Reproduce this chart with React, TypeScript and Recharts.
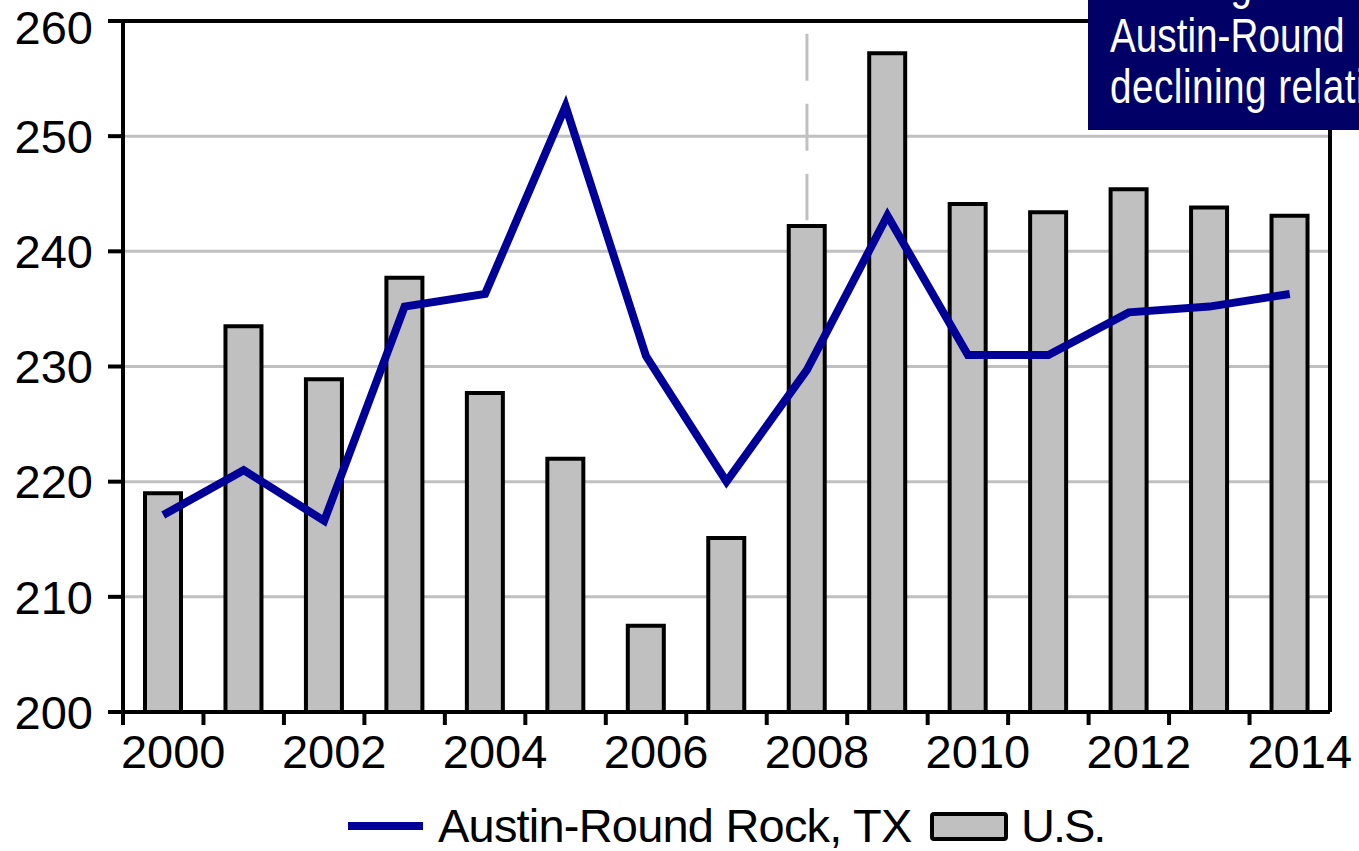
import React from 'react';
import {
  ComposedChart,
  Bar,
  Line,
  XAxis,
  YAxis,
  CartesianGrid,
  ReferenceLine,
  Legend,
} from 'recharts';

// ---- data ----
const years = [
  '2000', '2001', '2002', '2003', '2004', '2005', '2006', '2007',
  '2008', '2009', '2010', '2011', '2012', '2013', '2014',
];
const usValues = [
  219.0, 233.5, 228.9, 237.7, 227.7, 222.0, 207.5, 215.1,
  242.2, 257.2, 244.1, 243.4, 245.4, 243.8, 243.1,
];
const austinValues = [
  217.1, 221.0, 216.6, 235.2, 236.3, 252.6, 230.9, 220.0,
  229.7, 243.1, 231.0, 231.0, 234.7, 235.2, 236.3,
];
const yTicks = [200, 210, 220, 230, 240, 250, 260];
const xLabelYears = ['2000', '2002', '2004', '2006', '2008', '2010', '2012', '2014'];
const seriesNames = ['Austin-Round Rock, TX', 'U.S.'];
const markerYear = '2008';
const markerRange = [242.7, 258.9];
const annotationLines = ['Housing', 'Austin-Round', 'declining relative'];

const data = years.map((y, i) => ({ year: y, us: usValues[i], austin: austinValues[i] }));

const FONT = '"Liberation Sans", Arial, Helvetica, sans-serif';
const NAVY = '#000099';
const GRAY = '#c0c0c0';

const XTick = (props: any) => {
  const { x, y, payload } = props;
  const half = payload && typeof payload.offset === 'number' ? payload.offset : 40.2;
  const show = xLabelYears.includes(String(payload.value));
  return (
    <g>
      <line x1={x - half} x2={x - half} y1={y} y2={y + 13} stroke="#000" strokeWidth={4} />
      {show && (
        <text
          x={x + 10}
          y={y + 23}
          dy="0.71em"
          textAnchor="middle"
          fontSize={47}
          fontFamily={FONT}
          fill="#000"
        >
          {payload.value}
        </text>
      )}
    </g>
  );
};

const LegendContent = () => (
  <svg width={1359} height={56} style={{ display: 'block' }}>
    <rect x={348} y={27} width={75} height={8} fill={NAVY} />
    <text x={438} y={47} fontSize={47} fontFamily={FONT} fill="#000" letterSpacing={-0.8}>
      {seriesNames[0]}
    </text>
    <rect x={932} y={19} width={74} height={25} rx={2} fill={GRAY} stroke="#000" strokeWidth={4} />
    <text x={1021} y={47} fontSize={47} fontFamily={FONT} fill="#000" letterSpacing={-2}>
      {seriesNames[1]}
    </text>
  </svg>
);

export default function App() {
  return (
    <div
      style={{
        position: 'absolute',
        left: 0,
        top: 0,
        width: 1359,
        height: 851,
        overflow: 'hidden',
        background: '#fff',
        fontFamily: FONT,
      }}
    >
      <ComposedChart
        width={1359}
        height={851}
        data={data}
        margin={{ top: 21, right: 0, bottom: 0, left: 0 }}
        barSize={36}
      >
        <CartesianGrid vertical={false} stroke={GRAY} strokeWidth={3} />
        <XAxis
          dataKey="year"
          height={139}
          interval={0}
          tickLine={false}
          tickSize={0}
          tickMargin={0}
          axisLine={{ stroke: '#000', strokeWidth: 4 }}
          tick={<XTick />}
        />
        <YAxis
          width={123}
          domain={[200, 260]}
          ticks={yTicks}
          allowDataOverflow
          tickSize={15}
          tickMargin={15}
          axisLine={{ stroke: '#000', strokeWidth: 4 }}
          tickLine={{ stroke: '#000', strokeWidth: 4 }}
          tick={{ fontSize: 47, fill: '#000', fontFamily: FONT }}
        />
        <YAxis
          yAxisId="right"
          orientation="right"
          width={29}
          domain={[200, 260]}
          tick={false}
          tickLine={false}
          axisLine={{ stroke: '#000', strokeWidth: 4 }}
        />
        <ReferenceLine
          segment={[
            { x: markerYear, y: markerRange[1] },
            { x: markerYear, y: markerRange[0] },
          ]}
          stroke={GRAY}
          strokeWidth={3}
          strokeDasharray="47 23"
        />
        <Bar
          dataKey="us"
          name={seriesNames[1]}
          fill={GRAY}
          stroke="#000"
          strokeWidth={4}
          isAnimationActive={false}
        />
        <Line
          dataKey="austin"
          name={seriesNames[0]}
          type="linear"
          stroke={NAVY}
          strokeWidth={8}
          dot={false}
          activeDot={false}
          isAnimationActive={false}
        />
        <ReferenceLine y={260} stroke="#000" strokeWidth={4} />
        <Legend
          layout="horizontal"
          verticalAlign="middle"
          align="center"
          wrapperStyle={{ top: 795, left: 0, width: 1359, height: 56 }}
          content={<LegendContent />}
        />
      </ComposedChart>
      <div
        style={{
          position: 'absolute',
          left: 1088,
          top: 0,
          width: 271,
          height: 130,
          background: '#000066',
          overflow: 'hidden',
        }}
      >
        <svg width={271} height={130} style={{ display: 'block' }}>
          {annotationLines.map((line, i) => (
            <text
              key={i}
              transform={`translate(22, ${i === 0 ? -1.5 : 0.5 + i * 51}) scale(0.79, 1)`}
              fontSize={49}
              fontFamily={FONT}
              fill="#fff"
              letterSpacing={i === 2 ? 0.6 : 0}
            >
              {line}
            </text>
          ))}
        </svg>
      </div>
    </div>
  );
}
